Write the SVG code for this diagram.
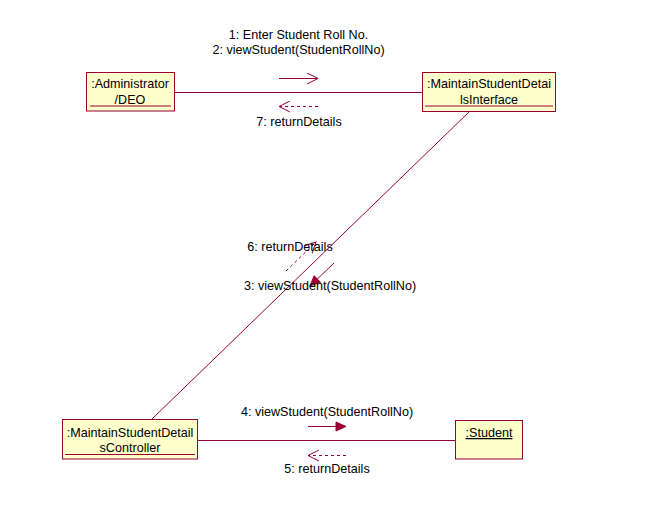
<svg xmlns="http://www.w3.org/2000/svg" width="652" height="519" viewBox="0 0 652 519">
<style>
.box{fill:#FFFFCC;stroke:#990033;stroke-width:1}
.ul{stroke:#990033;stroke-width:1}
.ln{stroke:#990033;stroke-width:1;fill:none}
.dash{stroke:#990033;stroke-width:1;fill:none;stroke-dasharray:3,3}
text{font-family:"Liberation Sans",Arial,sans-serif;font-size:12.6px;fill:#000}
</style>
<defs>
<marker id="open" markerWidth="12" markerHeight="12" refX="11" refY="6" orient="auto" markerUnits="userSpaceOnUse">
<path d="M0,0.5 L11,6 L0,11.5" fill="none" stroke="#990033" stroke-width="1"/>
</marker>
<marker id="fill" markerWidth="12" markerHeight="12" refX="11" refY="6" orient="auto" markerUnits="userSpaceOnUse">
<path d="M1,1.5 L11,6 L1,10.5 Z" fill="#990033" stroke="#990033" stroke-width="1"/>
</marker>
</defs>
<rect width="652" height="519" fill="#fff"/>
<g id="connectors">
<line class="ln" x1="174" y1="92.5" x2="422" y2="92.5"/>
<line class="ln" x1="469" y1="112" x2="152" y2="419"/>
<line class="ln" x1="198" y1="440.5" x2="456" y2="440.5"/>
<line class="ln" x1="279" y1="78.5" x2="318" y2="78.5" marker-end="url(#open)"/>
<line class="dash" x1="318" y1="106.5" x2="279" y2="106.5" marker-end="url(#open)"/>
<line class="ln" x1="334" y1="263" x2="310" y2="286" marker-end="url(#fill)"/>
<line class="dash" x1="286" y1="271" x2="316" y2="242" marker-end="url(#open)"/>
<line class="ln" x1="308" y1="426.5" x2="346" y2="426.5" marker-end="url(#fill)"/>
<line class="dash" x1="346" y1="455.5" x2="308" y2="455.5" marker-end="url(#open)"/>
<text x="298.5" y="39" text-anchor="middle">1: Enter Student Roll No.</text>
<text x="298.5" y="54" text-anchor="middle">2: viewStudent(StudentRollNo)</text>
<text x="299" y="126" text-anchor="middle">7: returnDetails</text>
<text x="290" y="251" text-anchor="middle">6: returnDetails</text>
<text x="330" y="290" text-anchor="middle">3: viewStudent(StudentRollNo)</text>
<text x="327" y="416" text-anchor="middle">4: viewStudent(StudentRollNo)</text>
<text x="327" y="473" text-anchor="middle">5: returnDetails</text>
</g>
<g id="admin">
<rect class="box" x="86.5" y="72.5" width="88" height="38.5"/>
<line class="ul" x1="90" y1="106" x2="171" y2="106"/>
<text x="130" y="88" text-anchor="middle">:Administrator</text>
<text x="130" y="104" text-anchor="middle">/DEO</text>
</g>
<g id="interface">
<rect class="box" x="422.5" y="72.5" width="133" height="39"/>
<line class="ul" x1="425" y1="106" x2="553" y2="106"/>
<text x="489" y="88" text-anchor="middle">:MaintainStudentDetai</text>
<text x="489" y="104" text-anchor="middle">lsInterface</text>
</g>
<g id="controller">
<rect class="box" x="62.5" y="419.5" width="135" height="39.5"/>
<line class="ul" x1="65" y1="454.5" x2="195" y2="454.5"/>
<text x="130" y="437" text-anchor="middle">:MaintainStudentDetail</text>
<text x="130" y="452" text-anchor="middle">sController</text>
</g>
<g id="student">
<rect class="box" x="455.5" y="420.5" width="67" height="38.5"/>
<text x="489" y="437" text-anchor="middle" text-decoration="underline">:Student</text>
</g>
</svg>
